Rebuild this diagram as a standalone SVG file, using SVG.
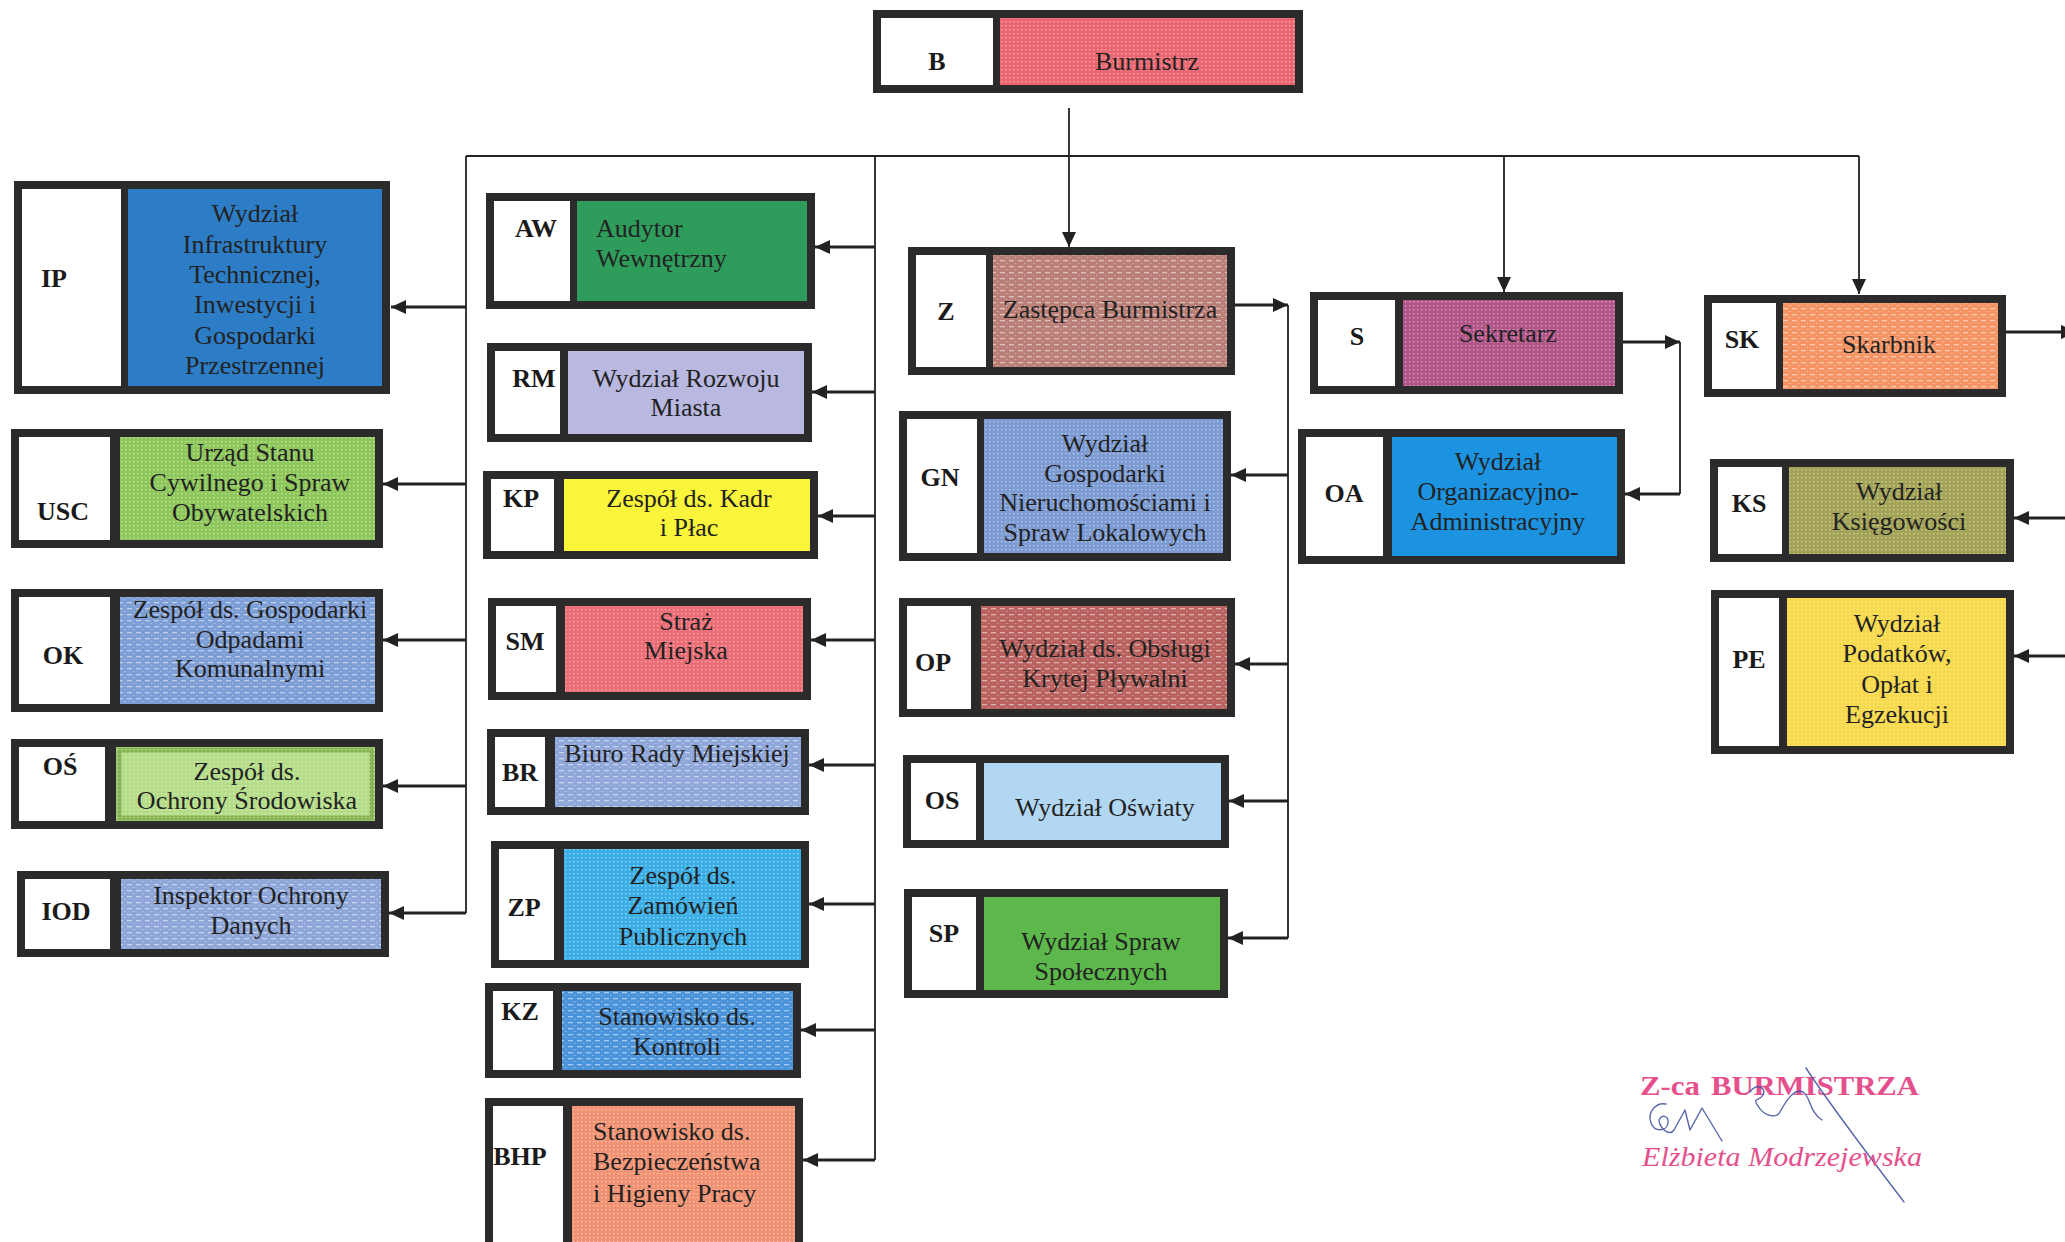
<svg xmlns="http://www.w3.org/2000/svg" width="2065" height="1242" viewBox="0 0 2065 1242">
<defs>
<style>
.frame{fill:#2b2b2b}
.code{fill:#ffffff}
.lbl{font-family:"Liberation Serif","Times New Roman",serif;font-weight:bold;font-size:26px;fill:#1a1a1a;text-anchor:middle}
.nm{font-family:"Liberation Serif","Times New Roman",serif;font-size:26px;fill:#222;text-anchor:middle}
.nml{font-family:"Liberation Serif","Times New Roman",serif;font-size:26px;fill:#222;text-anchor:start}
.trunk{stroke:#222;stroke-width:1.8;fill:none}
.stub{stroke:#222;stroke-width:3;fill:none;marker-end:url(#ah)}
.drop{stroke:#222;stroke-width:1.8;fill:none;marker-end:url(#ah)}
.dots{fill:url(#dots)}
.dash{fill:url(#dash)}
.stamp{font-family:"Liberation Serif","Times New Roman",serif;fill:#e5508c}
.sig{fill:none;stroke:#3c4c9c;stroke-width:1.4;stroke-linecap:round;stroke-linejoin:round;opacity:0.85}
</style>
<marker id="ah" markerUnits="userSpaceOnUse" markerWidth="16" markerHeight="14" refX="15" refY="7" orient="auto">
<path d="M0,0 L15,7 L0,14 z" fill="#222"/>
</marker>
<pattern id="dots" width="4" height="4" patternUnits="userSpaceOnUse">
<rect x="1" y="1" width="1.4" height="1.4" fill="#fff" opacity="0.45"/>
</pattern>
<pattern id="dash" width="9" height="6" patternUnits="userSpaceOnUse">
<rect x="1" y="2" width="5" height="1.3" fill="#fff" opacity="0.5"/>
<rect x="7" y="5" width="1.3" height="1" fill="#fff" opacity="0.4"/>
</pattern>
</defs>

<rect width="2065" height="1242" fill="#ffffff"/>

<g id="connectors">
<path class="drop" d="M1069,108 V247"/>
<path class="trunk" d="M466,156 H1859"/>
<path class="drop" d="M1504,156 V292"/>
<path class="drop" d="M1859,156 V294"/>
<path class="trunk" d="M466,156 V913"/>
<path class="stub" d="M466,307 H391"/>
<path class="stub" d="M466,484 H383"/>
<path class="stub" d="M466,640 H383"/>
<path class="stub" d="M466,786 H383"/>
<path class="stub" d="M466,913 H389"/>
<path class="trunk" d="M875,156 V1160"/>
<path class="stub" d="M875,247 H815"/>
<path class="stub" d="M875,392 H812"/>
<path class="stub" d="M875,516 H818"/>
<path class="stub" d="M875,640 H811"/>
<path class="stub" d="M875,765 H809"/>
<path class="stub" d="M875,904 H809"/>
<path class="stub" d="M875,1030 H801"/>
<path class="stub" d="M875,1160 H803"/>
<path class="stub" d="M1235,305 H1288"/>
<path class="trunk" d="M1288,305 V938"/>
<path class="stub" d="M1288,475 H1231"/>
<path class="stub" d="M1288,664 H1235"/>
<path class="stub" d="M1288,801 H1229"/>
<path class="stub" d="M1288,938 H1228"/>
<path class="stub" d="M1623,342 H1680"/>
<path class="trunk" d="M1680,342 V494"/>
<path class="stub" d="M1680,494 H1625"/>
<path class="stub" d="M2006,332 H2076"/>
<path class="stub" d="M2070,518 H2014"/>
<path class="stub" d="M2070,656 H2014"/>
</g>

<g id="node-B">
<rect class="frame" x="873" y="10" width="430" height="83"/>
<rect class="code" x="881" y="18" width="112" height="67"/>
<rect fill="#eb6670" x="1000" y="18" width="295" height="67"/>
<rect class="dots" x="1000" y="18" width="295" height="67"/>
<text class="lbl" x="937" y="70">B</text>
<text class="nm" x="1147" y="70">Burmistrz</text>
</g>

<g id="node-IP">
<rect class="frame" x="14" y="181" width="376" height="213"/>
<rect class="code" x="22" y="189" width="99" height="197"/>
<rect fill="#2c7dc6" x="128" y="189" width="254" height="197"/>
<text class="lbl" x="54" y="287">IP</text>
<text class="nm" x="255" y="222">Wydział</text>
<text class="nm" x="255" y="253">Infrastruktury</text>
<text class="nm" x="255" y="283">Technicznej,</text>
<text class="nm" x="255" y="313">Inwestycji  i</text>
<text class="nm" x="255" y="344">Gospodarki</text>
<text class="nm" x="255" y="374">Przestrzennej</text>
</g>

<g id="node-USC">
<rect class="frame" x="11" y="429" width="372" height="119"/>
<rect class="code" x="19" y="437" width="91" height="103"/>
<rect fill="#8dc75a" x="120" y="437" width="255" height="103"/>
<rect class="dots" x="120" y="437" width="255" height="103"/>
<text class="lbl" x="63" y="520">USC</text>
<text class="nm" x="250" y="461">Urząd Stanu</text>
<text class="nm" x="250" y="491">Cywilnego i Spraw</text>
<text class="nm" x="250" y="521">Obywatelskich</text>
</g>

<g id="node-OK">
<rect class="frame" x="11" y="589" width="372" height="123"/>
<rect class="code" x="19" y="597" width="91" height="107"/>
<rect fill="#7e9ed6" x="120" y="597" width="255" height="107"/>
<rect class="dash" x="120" y="597" width="255" height="107"/>
<text class="lbl" x="63" y="664">OK</text>
<text class="nm" x="250" y="618">Zespół ds. Gospodarki</text>
<text class="nm" x="250" y="648">Odpadami</text>
<text class="nm" x="250" y="677">Komunalnymi</text>
</g>

<g id="node-OS-env">
<rect class="frame" x="11" y="739" width="372" height="90"/>
<rect class="code" x="19" y="747" width="86" height="74"/>
<rect fill="#b5dd88" x="116" y="747" width="259" height="74"/>
<rect x="119" y="750" width="253" height="68" fill="none" stroke="#86b455" stroke-width="5"/>
<rect class="dots" x="116" y="747" width="259" height="74"/>
<text class="lbl" x="60" y="775">OŚ</text>
<text class="nm" x="247" y="780">Zespół ds.</text>
<text class="nm" x="247" y="809">Ochrony Środowiska</text>
</g>

<g id="node-IOD">
<rect class="frame" x="17" y="871" width="372" height="86"/>
<rect class="code" x="25" y="879" width="85" height="70"/>
<rect fill="#8ea6d8" x="121" y="879" width="260" height="70"/>
<rect class="dash" x="121" y="879" width="260" height="70"/>
<text class="lbl" x="66" y="920">IOD</text>
<text class="nm" x="251" y="904">Inspektor Ochrony</text>
<text class="nm" x="251" y="934">Danych</text>
</g>

<g id="node-AW">
<rect class="frame" x="486" y="193" width="329" height="116"/>
<rect class="code" x="494" y="201" width="76" height="100"/>
<rect fill="#2e9d5c" x="577" y="201" width="230" height="100"/>
<text class="lbl" x="536" y="237">AW</text>
<text class="nml" x="596" y="237">Audytor</text>
<text class="nml" x="596" y="267">Wewnętrzny</text>
</g>

<g id="node-RM">
<rect class="frame" x="487" y="343" width="325" height="99"/>
<rect class="code" x="495" y="351" width="65" height="83"/>
<rect fill="#b9b8e0" x="568" y="351" width="236" height="83"/>
<text class="lbl" x="534" y="387">RM</text>
<text class="nm" x="686" y="387">Wydział Rozwoju</text>
<text class="nm" x="686" y="416">Miasta</text>
</g>

<g id="node-KP">
<rect class="frame" x="483" y="471" width="335" height="88"/>
<rect class="code" x="491" y="479" width="63" height="72"/>
<rect fill="#faf53a" x="564" y="479" width="246" height="72"/>
<text class="lbl" x="521" y="507">KP</text>
<text class="nm" x="689" y="507">Zespół ds. Kadr</text>
<text class="nm" x="689" y="536">i Płac</text>
</g>

<g id="node-SM">
<rect class="frame" x="488" y="598" width="323" height="102"/>
<rect class="code" x="496" y="606" width="60" height="86"/>
<rect fill="#ec6d76" x="565" y="606" width="238" height="86"/>
<rect class="dots" x="565" y="606" width="238" height="86"/>
<text class="lbl" x="525" y="650">SM</text>
<text class="nm" x="686" y="630">Straż</text>
<text class="nm" x="686" y="659">Miejska</text>
</g>

<g id="node-BR">
<rect class="frame" x="487" y="729" width="322" height="86"/>
<rect class="code" x="495" y="737" width="50" height="70"/>
<rect fill="#8fa7d9" x="555" y="737" width="246" height="70"/>
<rect class="dash" x="555" y="737" width="246" height="70"/>
<text class="lbl" x="520" y="781">BR</text>
<text class="nm" x="677" y="762">Biuro Rady Miejskiej</text>
</g>

<g id="node-ZP">
<rect class="frame" x="491" y="841" width="318" height="127"/>
<rect class="code" x="499" y="849" width="55" height="111"/>
<rect fill="#3aaee6" x="564" y="849" width="237" height="111"/>
<rect class="dots" x="564" y="849" width="237" height="111"/>
<text class="lbl" x="524" y="916">ZP</text>
<text class="nm" x="683" y="884">Zespół ds.</text>
<text class="nm" x="683" y="914">Zamówień</text>
<text class="nm" x="683" y="945">Publicznych</text>
</g>

<g id="node-KZ">
<rect class="frame" x="485" y="983" width="316" height="95"/>
<rect class="code" x="493" y="991" width="60" height="79"/>
<rect fill="#4b94da" x="562" y="991" width="231" height="79"/>
<rect class="dash" x="562" y="991" width="231" height="79"/>
<text class="lbl" x="520" y="1020">KZ</text>
<text class="nm" x="677" y="1025">Stanowisko ds.</text>
<text class="nm" x="677" y="1055">Kontroli</text>
</g>

<g id="node-BHP">
<rect class="frame" x="485" y="1098" width="318" height="160"/>
<rect class="code" x="493" y="1106" width="70" height="144"/>
<rect fill="#f39272" x="572" y="1106" width="223" height="144"/>
<rect class="dots" x="572" y="1106" width="223" height="144"/>
<text class="lbl" x="520" y="1165">BHP</text>
<text class="nml" x="593" y="1140">Stanowisko ds.</text>
<text class="nml" x="593" y="1170">Bezpieczeństwa</text>
<text class="nml" x="593" y="1202">i Higieny Pracy</text>
</g>

<g id="node-Z">
<rect class="frame" x="908" y="247" width="327" height="128"/>
<rect class="code" x="916" y="255" width="70" height="112"/>
<rect fill="#ba8078" x="993" y="255" width="234" height="112"/>
<rect class="dash" x="993" y="255" width="234" height="112"/>
<text class="lbl" x="946" y="320">Z</text>
<text class="nm" x="1110" y="318">Zastępca Burmistrza</text>
</g>

<g id="node-GN">
<rect class="frame" x="899" y="411" width="332" height="150"/>
<rect class="code" x="907" y="419" width="70" height="134"/>
<rect fill="#7d9bd3" x="984" y="419" width="239" height="134"/>
<rect class="dots" x="984" y="419" width="239" height="134"/>
<text class="lbl" x="940" y="486">GN</text>
<text class="nm" x="1105" y="452">Wydział</text>
<text class="nm" x="1105" y="482">Gospodarki</text>
<text class="nm" x="1105" y="511">Nieruchomościami i</text>
<text class="nm" x="1105" y="541">Spraw Lokalowych</text>
</g>

<g id="node-OP">
<rect class="frame" x="899" y="598" width="336" height="119"/>
<rect class="code" x="907" y="606" width="64" height="103"/>
<rect fill="#b9625f" x="981" y="606" width="246" height="103"/>
<rect class="dash" x="981" y="606" width="246" height="103"/>
<text class="lbl" x="933" y="671">OP</text>
<text class="nm" x="1105" y="657">Wydział ds. Obsługi</text>
<text class="nm" x="1105" y="687">Krytej Pływalni</text>
</g>

<g id="node-OS">
<rect class="frame" x="903" y="755" width="326" height="93"/>
<rect class="code" x="911" y="763" width="65" height="77"/>
<rect fill="#b2d7f2" x="984" y="763" width="237" height="77"/>
<text class="lbl" x="942" y="809">OS</text>
<text class="nm" x="1105" y="816">Wydział Oświaty</text>
</g>

<g id="node-SP">
<rect class="frame" x="904" y="889" width="324" height="109"/>
<rect class="code" x="912" y="897" width="64" height="93"/>
<rect fill="#5cb84a" x="984" y="897" width="236" height="93"/>
<text class="lbl" x="944" y="942">SP</text>
<text class="nm" x="1101" y="950">Wydział Spraw</text>
<text class="nm" x="1101" y="980">Społecznych</text>
</g>

<g id="node-S">
<rect class="frame" x="1310" y="292" width="313" height="102"/>
<rect class="code" x="1318" y="300" width="77" height="86"/>
<rect fill="#b2568a" x="1403" y="300" width="212" height="86"/>
<rect class="dots" x="1403" y="300" width="212" height="86"/>
<text class="lbl" x="1357" y="345">S</text>
<text class="nm" x="1508" y="342">Sekretarz</text>
</g>

<g id="node-OA">
<rect class="frame" x="1298" y="429" width="327" height="135"/>
<rect class="code" x="1306" y="437" width="77" height="119"/>
<rect fill="#1c93e0" x="1392" y="437" width="225" height="119"/>
<text class="lbl" x="1344" y="502">OA</text>
<text class="nm" x="1498" y="470">Wydział</text>
<text class="nm" x="1498" y="500">Organizacyjno-</text>
<text class="nm" x="1498" y="530">Administracyjny</text>
</g>

<g id="node-SK">
<rect class="frame" x="1704" y="295" width="302" height="102"/>
<rect class="code" x="1712" y="303" width="64" height="86"/>
<rect fill="#f59565" x="1783" y="303" width="215" height="86"/>
<rect class="dash" x="1783" y="303" width="215" height="86"/>
<text class="lbl" x="1742" y="348">SK</text>
<text class="nm" x="1889" y="353">Skarbnik</text>
</g>

<g id="node-KS">
<rect class="frame" x="1710" y="459" width="304" height="103"/>
<rect class="code" x="1718" y="467" width="64" height="87"/>
<rect fill="#a3a355" x="1789" y="467" width="217" height="87"/>
<rect class="dots" x="1789" y="467" width="217" height="87"/>
<text class="lbl" x="1749" y="512">KS</text>
<text class="nm" x="1899" y="500">Wydział</text>
<text class="nm" x="1899" y="530">Księgowości</text>
</g>

<g id="node-PE">
<rect class="frame" x="1711" y="590" width="303" height="164"/>
<rect class="code" x="1719" y="598" width="60" height="148"/>
<rect fill="#f7d94a" x="1787" y="598" width="219" height="148"/>
<rect class="dots" x="1787" y="598" width="219" height="148"/>
<text class="lbl" x="1749" y="668">PE</text>
<text class="nm" x="1897" y="632">Wydział</text>
<text class="nm" x="1897" y="662">Podatków,</text>
<text class="nm" x="1897" y="693">Opłat i</text>
<text class="nm" x="1897" y="723">Egzekucji</text>
</g>

<g id="stamp">
<text class="stamp" x="1640" y="1095" font-size="27" font-weight="bold" textLength="60" lengthAdjust="spacingAndGlyphs">Z-ca</text>
<text class="stamp" x="1711" y="1095" font-size="27" font-weight="bold" textLength="208" lengthAdjust="spacingAndGlyphs">BURMISTRZA</text>
<path class="sig" d="M1666,1104 C1656,1102 1647,1112 1651,1123 C1655,1133 1667,1131 1668,1123 C1669,1115 1660,1114 1659,1121 C1661,1130 1670,1136 1674,1130 L1685,1110 L1690,1130 L1702,1108 L1722,1141"/>
<path class="sig" d="M1750,1092 C1756,1083 1767,1087 1763,1095 C1759,1102 1752,1097 1758,1106 C1764,1116 1776,1119 1780,1112 C1786,1101 1794,1088 1803,1092 C1811,1097 1809,1112 1822,1120"/>
<path class="sig" d="M1806,1068 C1830,1105 1872,1160 1904,1202"/>
<text class="stamp" x="1642" y="1166" font-size="27" font-style="italic" textLength="280" lengthAdjust="spacingAndGlyphs">Elżbieta Modrzejewska</text>
</g>
</svg>
